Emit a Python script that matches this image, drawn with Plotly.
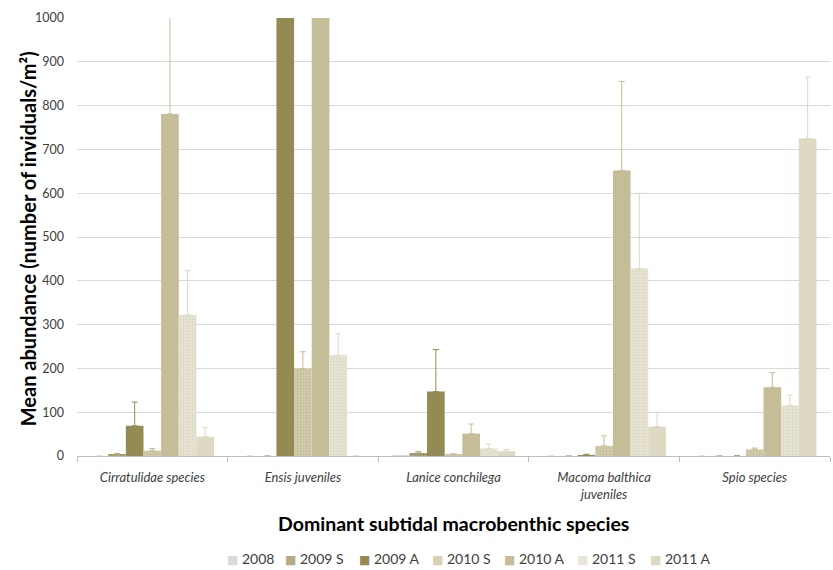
import plotly.graph_objects as go

categories = ["Cirratulidae species", "Ensis juveniles", "Lanice conchilega",
              "Macoma balthica<br>juveniles", "Spio species"]

series_names = ["2008", "2009 S", "2009 A", "2010 S", "2010 A", "2011 S", "2011 A"]

v2008 = [0, 0, 1, 0, 0]
v2009S = [3, 0, 7, 0, 0]
v2009A = [69, 1450, 147, 2, 0]
v2010S = [12, 200, 3, 23, 15]
v2010A = [781, 1400, 51, 652, 157]
v2011S = [322, 230, 17, 428, 115]
v2011A = [44, 0, 11, 67, 725]

e2008 = [0, 0, 0, 0, 0]
e2009S = [3, 0, 3, 0, 0]
e2009A = [54, 0, 96, 2, 0]
e2010S = [5, 38, 2, 23, 3]
e2010A = [260, 0, 22, 203, 33]
e2011S = [101, 49, 10, 172, 24]
e2011A = [21, 0, 4, 32, 140]

values = [v2008, v2009S, v2009A, v2010S, v2010A, v2011S, v2011A]
errors = [e2008, e2009S, e2009A, e2010S, e2010A, e2011S, e2011A]

colors = ["#D9D9D9", "#B3AC84", "#948A54", "#D6D0B4", "#C4BD97", "#E9E6D9", "#DDD9C3"]
pattern_fg = [None, "#948A54", None, "#C4BD97", None, "#DDD9C3", None]
err_colors = ["#D9D9D9", "#B3AC84", "#948A54", "#C4BD97", "#C4BD97", "#DDD9C3", "#DDD9C3"]

# legend entry left edges (pixels) as laid out in the reference
legend_px = [225, 283, 357, 430, 502, 575, 648]

font_family = "Lato, 'Open Sans', sans-serif"

W, H = 833, 570
ML, MR, MT, MB = 77, 3, 18, 114
PW = W - ML - MR
PH = H - MT - MB

fig = go.Figure()
for name, vals, errs, col, pfg, ecol in zip(series_names, values, errors, colors, pattern_fg, err_colors):
    marker = dict(color=col, line=dict(width=0))
    if pfg is not None:
        marker["pattern"] = dict(shape=".", size=3, solidity=0.45, fgcolor=pfg, bgcolor=col, fillmode="replace")
    fig.add_trace(go.Bar(
        name=name, x=categories, y=vals, marker=marker, showlegend=False,
        error_y=dict(type="data", symmetric=False, array=errs,
                     arrayminus=[0] * len(errs), color=ecol, thickness=1, width=3),
    ))

annotations = [
    dict(text="<b>Dominant subtidal macrobenthic species</b>", xref="paper", yref="paper",
         x=0.5, y=-0.153, xanchor="center", yanchor="middle", showarrow=False,
         font=dict(size=19.5, color="#000000")),
    dict(text="<b>Mean abundance (number of inviduals/m²)</b>", xref="paper", yref="paper",
         x=-0.065, y=0.495, xanchor="center", yanchor="middle", showarrow=False,
         textangle=-90, font=dict(size=20, color="#000000")),
]
legend_y = (MT + PH - 558) / PH
for name, col, px in zip(series_names, colors, legend_px):
    annotations.append(dict(
        text=f"<span style='color:{col};font-size:12px;font-family:DejaVu Sans'>■</span> {name}",
        xref="paper", yref="paper", x=(px - ML) / PW, y=legend_y,
        xanchor="left", yanchor="middle", showarrow=False,
        font=dict(size=14, color="#404040"),
    ))

fig.update_layout(
    width=W, height=H,
    margin=dict(l=ML, r=MR, t=MT, b=MB, autoexpand=False),
    barmode="group", bargap=0.18, bargroupgap=0,
    plot_bgcolor="white", paper_bgcolor="white",
    font=dict(family=font_family, size=13, color="#404040"),
    showlegend=False,
    xaxis=dict(
        automargin=False,
        showline=True, linecolor="#BFBFBF", linewidth=1,
        ticks="outside", tickson="boundaries", ticklen=5, tickcolor="#BFBFBF",
        ticklabelstandoff=9,
        tickfont=dict(size=13, style="italic", color="#404040"),
    ),
    yaxis=dict(
        automargin=False,
        range=[0, 1000], dtick=100, showgrid=True, gridcolor="#D9D9D9", gridwidth=1,
        zeroline=False, showline=False, ticks="", ticklabelstandoff=12,
        tickfont=dict(size=12.5, color="#404040"),
    ),
    annotations=annotations,
)

fig.write_html("out.html", config={"displayModeBar": False},
               post_script="document.body.style.margin='0';")
